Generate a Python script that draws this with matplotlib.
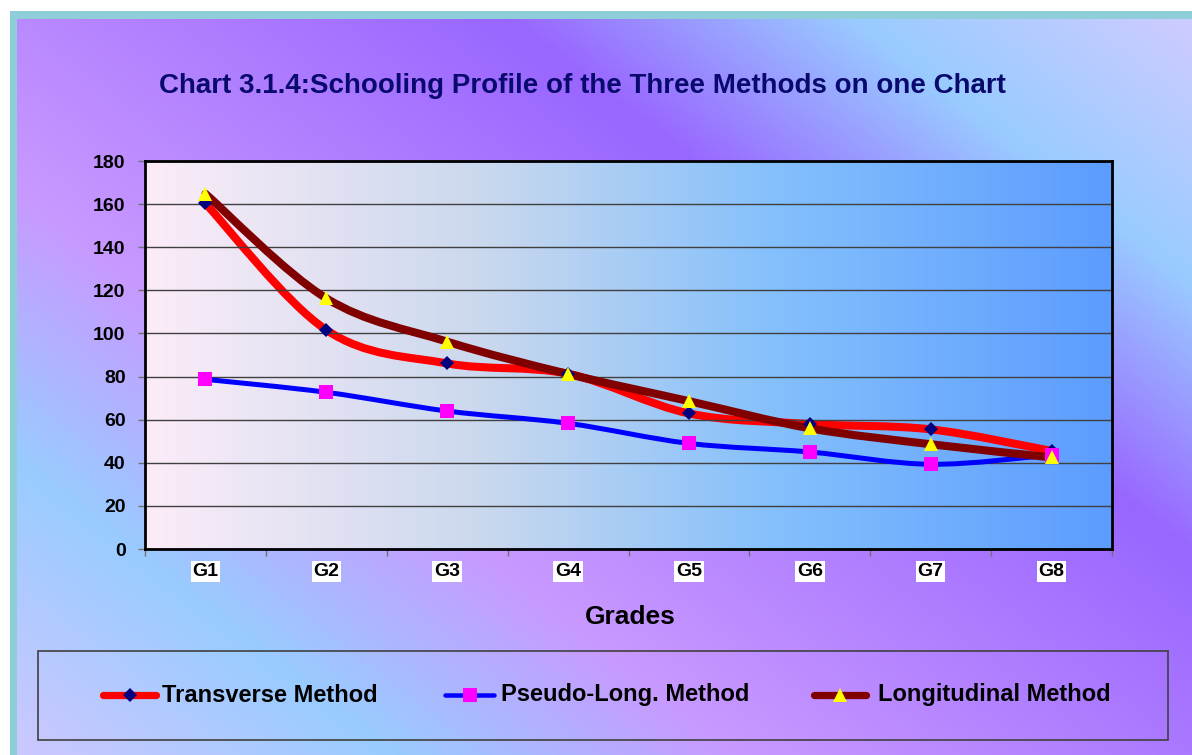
import numpy as np
import matplotlib
matplotlib.use("Agg")
import matplotlib.pyplot as plt
from matplotlib.colors import LinearSegmentedColormap
from matplotlib.path import Path
from matplotlib.patches import PathPatch, Rectangle
from matplotlib.lines import Line2D

plt.rcParams["font.family"] = ["Liberation Sans", "DejaVu Sans"]
plt.rcParams["font.weight"] = "bold"

# ── data ──────────────────────────────────────────────────────────────────
grades = ["G1", "G2", "G3", "G4", "G5", "G6", "G7", "G8"]
transverse = [160.3, 101.6, 86.1, 81.3, 62.9, 58.0, 55.5, 45.5]
pseudo_long = [78.7, 72.7, 64.0, 58.3, 49.0, 45.0, 39.3, 43.6]
longitudinal = [164.8, 116.3, 96.2, 81.2, 68.6, 56.0, 48.6, 42.5]

W, H = 1192, 755


def smooth_path(xs, ys):
    """Catmull-Rom style bezier through the points (like Excel smoothed lines)."""
    pts = np.column_stack([xs, ys]).astype(float)
    n = len(pts)
    verts = [pts[0]]
    codes = [Path.MOVETO]
    for i in range(n - 1):
        p0 = pts[max(i - 1, 0)]
        p1 = pts[i]
        p2 = pts[i + 1]
        p3 = pts[min(i + 2, n - 1)]
        c1 = p1 + (p2 - p0) / 6.0
        c2 = p2 - (p3 - p1) / 6.0
        verts += [c1, c2, p2]
        codes += [Path.CURVE4] * 3
    return Path(verts, codes)


fig = plt.figure(figsize=(W / 100, H / 100), dpi=100)
fig.patch.set_facecolor("white")

# ── background (pixel coordinates) ────────────────────────────────────────
bg = fig.add_axes([0, 0, 1, 1], zorder=-5)
bg.axis("off")
bg.add_patch(Rectangle((10, 11), W - 10, H - 11, facecolor="#8fcdd8",
                       edgecolor="none", zorder=0))
gx, gy = np.meshgrid(np.arange(17, W, 2), np.arange(19, H, 2))
p = 0.78 * gx - gy
stops = [(-717, "#c8c8ff"), (-450, "#99ccff"), (-177, "#c899ff"),
         (379, "#9966ff"), (652, "#99ccff"), (900, "#cccbff")]
lo, hi = stops[0][0], stops[-1][0]
bg_cmap = LinearSegmentedColormap.from_list(
    "bg", [((v - lo) / (hi - lo), c) for v, c in stops])
bg.imshow(np.clip((p - lo) / (hi - lo), 0, 1), cmap=bg_cmap, vmin=0, vmax=1,
          extent=(17, W, H, 19), aspect="auto", interpolation="bilinear",
          zorder=1)
bg.set_xlim(0, W)
bg.set_ylim(H, 0)

# ── plot area ─────────────────────────────────────────────────────────────
ax = fig.add_axes([145 / W, 1 - 549 / H, (1112 - 145) / W, (549 - 161) / H])
x = np.arange(len(grades))

pa_cmap = LinearSegmentedColormap.from_list(
    "pa", [(0, "#fcecf8"), (0.35, "#cad8ee"), (0.65, "#84c0fc"), (1, "#5c9cff")])
ax.imshow(np.linspace(0, 1, 256)[None, :], cmap=pa_cmap, aspect="auto",
          extent=(-0.5, len(grades) - 0.5, 0, 180), zorder=0)
ax.set_xlim(-0.5, len(grades) - 0.5)
ax.set_ylim(0, 180)

ax.set_yticks(np.arange(0, 181, 20))
ax.yaxis.grid(True, color="#404040", lw=1.0, zorder=1)
ax.set_axisbelow(False)
ax.tick_params(axis="y", length=5, width=1, color="#707070", pad=9,
               labelsize=14)
ax.set_xticks(np.arange(-0.5, len(grades), 1))
ax.set_xticklabels([])
ax.set_xticks(x, minor=True)
ax.set_xticklabels(grades, minor=True)
ax.tick_params(axis="x", which="major", length=5, width=1, color="#707070")
ax.tick_params(axis="x", which="minor", length=0, pad=10, labelsize=14)
for lab in ax.get_xticklabels(minor=True):
    lab.set_bbox(dict(facecolor="white", edgecolor="none", pad=1.2))
for s in ax.spines.values():
    s.set_color("black")
    s.set_linewidth(2)
    s.set_zorder(6)

series = [
    (transverse, "#ff0000", 5.8, "D", "#000080", 7.0),
    (pseudo_long, "#0000ff", 3.6, "s", "#ff00ff", 10),
    (longitudinal, "#800000", 5.8, "^", "#ffff00", 9.5),
]
for i, (vals, lc, lw, mk, mc, ms) in enumerate(series):
    ax.add_patch(PathPatch(smooth_path(x, vals), facecolor="none",
                           edgecolor=lc, lw=lw, capstyle="round",
                           joinstyle="round", zorder=2 + i))
for i, (vals, lc, lw, mk, mc, ms) in enumerate(series):
    ax.plot(x, vals, linestyle="none", marker=mk, color=mc, markersize=ms,
            markeredgewidth=0, zorder=5 + i * 0.1, clip_on=False)

# ── texts ─────────────────────────────────────────────────────────────────
fig.text(582 / W, 1 - 86 / H,
         "Chart 3.1.4:Schooling Profile of the Three Methods on one Chart",
         ha="center", va="center", fontsize=20, color="#0a0a6e",
         fontweight="bold")
fig.text(630 / W, 1 - 617 / H, "Grades", ha="center", va="center",
         fontsize=19, fontweight="bold")

# ── legend ────────────────────────────────────────────────────────────────
bg.add_patch(Rectangle((38, 651), 1168 - 38, 740 - 651, facecolor="none",
                       edgecolor="#404040", lw=1.2, zorder=5))
leg_entries = [
    ("Transverse Method", 100, 159, 162),
    ("Pseudo-Long. Method", 442, 497, 501),
    ("Longitudinal Method", 811, 869, 878),
]
ly = 695
for (label, x0, x1, tx), (vals, lc, lw, mk, mc, ms) in zip(leg_entries, series):
    bg.add_line(Line2D([x0 + 3, x1 - 3], [ly, ly], color=lc, lw=lw * 0.9,
                       solid_capstyle="round", zorder=6))
    bg.add_line(Line2D([(x0 + x1) / 2], [ly], marker=mk, color=mc,
                       markersize=ms, markeredgewidth=0, linestyle="none",
                       zorder=7))
    bg.text(tx, ly, label, ha="left", va="center", fontsize=17,
            fontweight="bold", zorder=7)

fig.savefig("out.png", dpi=100, facecolor="white")
